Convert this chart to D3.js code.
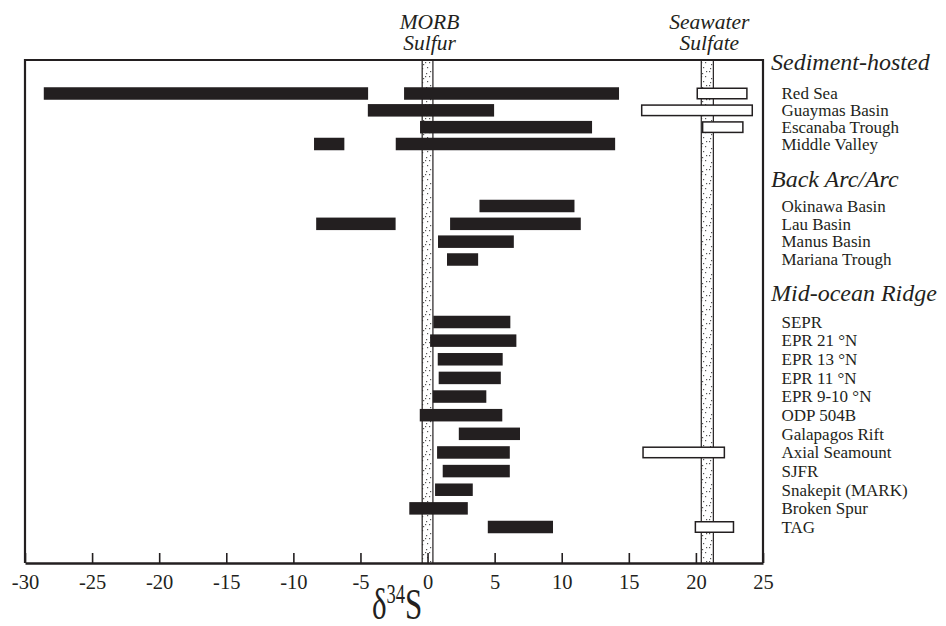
<!DOCTYPE html>
<html><head><meta charset="utf-8">
<script src="https://cdn.jsdelivr.net/npm/d3@7"></script>
<style>body{margin:0;background:#fff}svg{display:block}</style>
</head><body>
<svg id="c" width="946" height="626"></svg>
<script>
// ---------- data ----------
const groups = ["Sediment-hosted", "Back Arc/Arc", "Mid-ocean Ridge"];
const sites = ["Red Sea", "Guaymas Basin", "Escanaba Trough", "Middle Valley",
  "Okinawa Basin", "Lau Basin", "Manus Basin", "Mariana Trough",
  "SEPR", "EPR 21 °N", "EPR 13 °N", "EPR 11 °N", "EPR 9-10 °N", "ODP 504B",
  "Galapagos Rift", "Axial Seamount", "SJFR", "Snakepit (MARK)", "Broken Spur", "TAG"];
const siteGroup = [0,0,0,0, 1,1,1,1, 2,2,2,2,2,2,2,2,2,2,2,2];

// sulfide δ34S ranges (filled bars)
const sulfideSite = ["Red Sea", "Red Sea", "Guaymas Basin", "Escanaba Trough", "Middle Valley", "Middle Valley",
  "Okinawa Basin", "Lau Basin", "Lau Basin", "Manus Basin", "Mariana Trough",
  "SEPR", "EPR 21 °N", "EPR 13 °N", "EPR 11 °N", "EPR 9-10 °N", "ODP 504B",
  "Galapagos Rift", "Axial Seamount", "SJFR", "Snakepit (MARK)", "Broken Spur", "TAG"];
const sulfideMin = [-28.6, -1.75, -4.45, -0.56, -8.46, -2.37,
  3.87, -8.3, 1.68, 0.78, 1.45,
  0.43, 0.19, 0.76, 0.83, 0.39, -0.58,
  2.33, 0.71, 1.13, 0.56, -1.36, 4.49];
const sulfideMax = [-4.43, 14.27, 4.96, 12.26, -6.2, 13.98,
  10.95, -2.38, 11.42, 6.43, 3.77,
  6.17, 6.62, 5.6, 5.46, 4.38, 5.57,
  6.89, 6.13, 6.13, 3.37, 3.0, 9.35];

// sulfate δ34S ranges (open bars)
const sulfateSite = ["Red Sea", "Guaymas Basin", "Escanaba Trough", "Axial Seamount", "TAG"];
const sulfateMin = [20.1, 15.96, 20.5, 16.06, 19.96];
const sulfateMax = [23.8, 24.2, 23.5, 22.12, 22.8];

// reference bands
const refLabel1 = ["MORB", "Seawater"];
const refLabel2 = ["Sulfur", "Sulfate"];
const refMin = [-0.4, 20.4];
const refMax = [0.4, 21.3];

const xTicks = [-30, -25, -20, -15, -10, -5, 0, 5, 10, 15, 20, 25];

// ---------- layout ----------
(function () {
const ink = "#231f20";
const serif = "'Liberation Serif','Times New Roman',serif";
const pLeft = 25, pRight = 763, pTop = 60, pBottom = 563;
const groupRanges = [[93.5, 144], [206, 259.5], [322, 527]];
const headerBaseline = [70, 187, 301];

const svg = d3.select("#c");
const x = d3.scaleLinear().domain([-30, 25]).range([pLeft, pRight]);

const yScales = groups.map((g, gi) =>
  d3.scalePoint().domain(sites.filter((s, i) => siteGroup[i] === gi)).range(groupRanges[gi]));
const y = s => yScales[siteGroup[sites.indexOf(s)]](s);

// stipple pattern
const defs = svg.append("defs");
const pat = defs.append("pattern").attr("id", "stip").attr("patternUnits", "userSpaceOnUse")
  .attr("width", 12).attr("height", 14);
pat.append("rect").attr("width", 12).attr("height", 14).attr("fill", "#fff");
[[1,1],[6,3],[9,6],[3,8],[7,11],[2,12],[10,1],[5,6]].forEach(([a,b]) =>
  pat.append("rect").attr("x", a).attr("y", b).attr("width", 1.2).attr("height", 1.2).attr("fill", "#555"));

// reference bands
const bandG = svg.append("g");
refMin.forEach((m, i) => {
  bandG.append("rect").attr("x", x(m)).attr("y", pTop).attr("width", x(refMax[i]) - x(m))
    .attr("height", pBottom - pTop).attr("fill", "url(#stip)");
  [m, refMax[i]].forEach(v => bandG.append("line")
    .attr("x1", x(v)).attr("x2", x(v)).attr("y1", pTop).attr("y2", pBottom)
    .attr("stroke", ink).attr("stroke-width", 1.2));
  const cx = (x(m) + x(refMax[i])) / 2 + 2;
  svg.append("text").attr("x", cx).attr("y", 29).attr("text-anchor", "middle")
    .attr("font-family", serif).attr("font-style", "italic").attr("font-size", 21.5)
    .attr("fill", ink).text(refLabel1[i]);
  svg.append("text").attr("x", cx).attr("y", 50).attr("text-anchor", "middle")
    .attr("font-family", serif).attr("font-style", "italic").attr("font-size", 21.5)
    .attr("fill", ink).text(refLabel2[i]);
});

// filled sulfide bars
const barH = 12.5;
svg.append("g").selectAll("rect").data(sulfideSite).join("rect")
  .attr("x", (d, i) => x(sulfideMin[i]))
  .attr("width", (d, i) => x(sulfideMax[i]) - x(sulfideMin[i]))
  .attr("y", d => y(d) - barH / 2).attr("height", barH)
  .attr("fill", ink);

// open sulfate bars
const boxH = 10.5;
svg.append("g").selectAll("rect").data(sulfateSite).join("rect")
  .attr("x", (d, i) => x(sulfateMin[i]))
  .attr("width", (d, i) => x(sulfateMax[i]) - x(sulfateMin[i]))
  .attr("y", d => y(d) - boxH / 2).attr("height", boxH)
  .attr("fill", "#fff").attr("stroke", ink).attr("stroke-width", 1.5);

// frame
svg.append("path").attr("d", `M${pLeft},${pBottom}V${pTop}H${pRight}V${pBottom}`)
  .attr("fill", "none").attr("stroke", ink).attr("stroke-width", 2.2);

// axis
const ax = svg.append("g").attr("transform", `translate(0,${pBottom})`)
  .call(d3.axisBottom(x).tickValues(xTicks).tickFormat(d => String(d))
    .tickSizeInner(-10).tickSizeOuter(0).tickPadding(11.5));
ax.select(".domain").attr("stroke", ink).attr("stroke-width", 2.6);
ax.selectAll(".tick line").attr("stroke", ink).attr("stroke-width", 1.6);
ax.selectAll(".tick text").attr("font-family", serif).attr("font-size", 20.5).attr("fill", ink);

// axis title δ34S
const t = svg.append("text").attr("font-family", serif).attr("fill", ink)
  .attr("transform", "translate(372,619) scale(1,1.45)").attr("font-size", 31);
t.append("tspan").text("δ");
t.append("tspan").attr("font-size", 18.5).attr("dy", -11).text("34");
t.append("tspan").attr("dy", 11).text("S");

// group headers and site labels
groups.forEach((g, gi) => {
  svg.append("text").attr("x", 771).attr("y", headerBaseline[gi])
    .attr("font-family", serif).attr("font-style", "italic").attr("font-size", 24)
    .attr("fill", ink).text(g);
});
svg.append("g").selectAll("text").data(sites).join("text")
  .attr("x", 781.5).attr("y", d => y(d)).attr("dy", "0.34em")
  .attr("font-family", serif).attr("font-size", 17).attr("fill", ink).text(d => d);
})();
</script>
</body></html>
